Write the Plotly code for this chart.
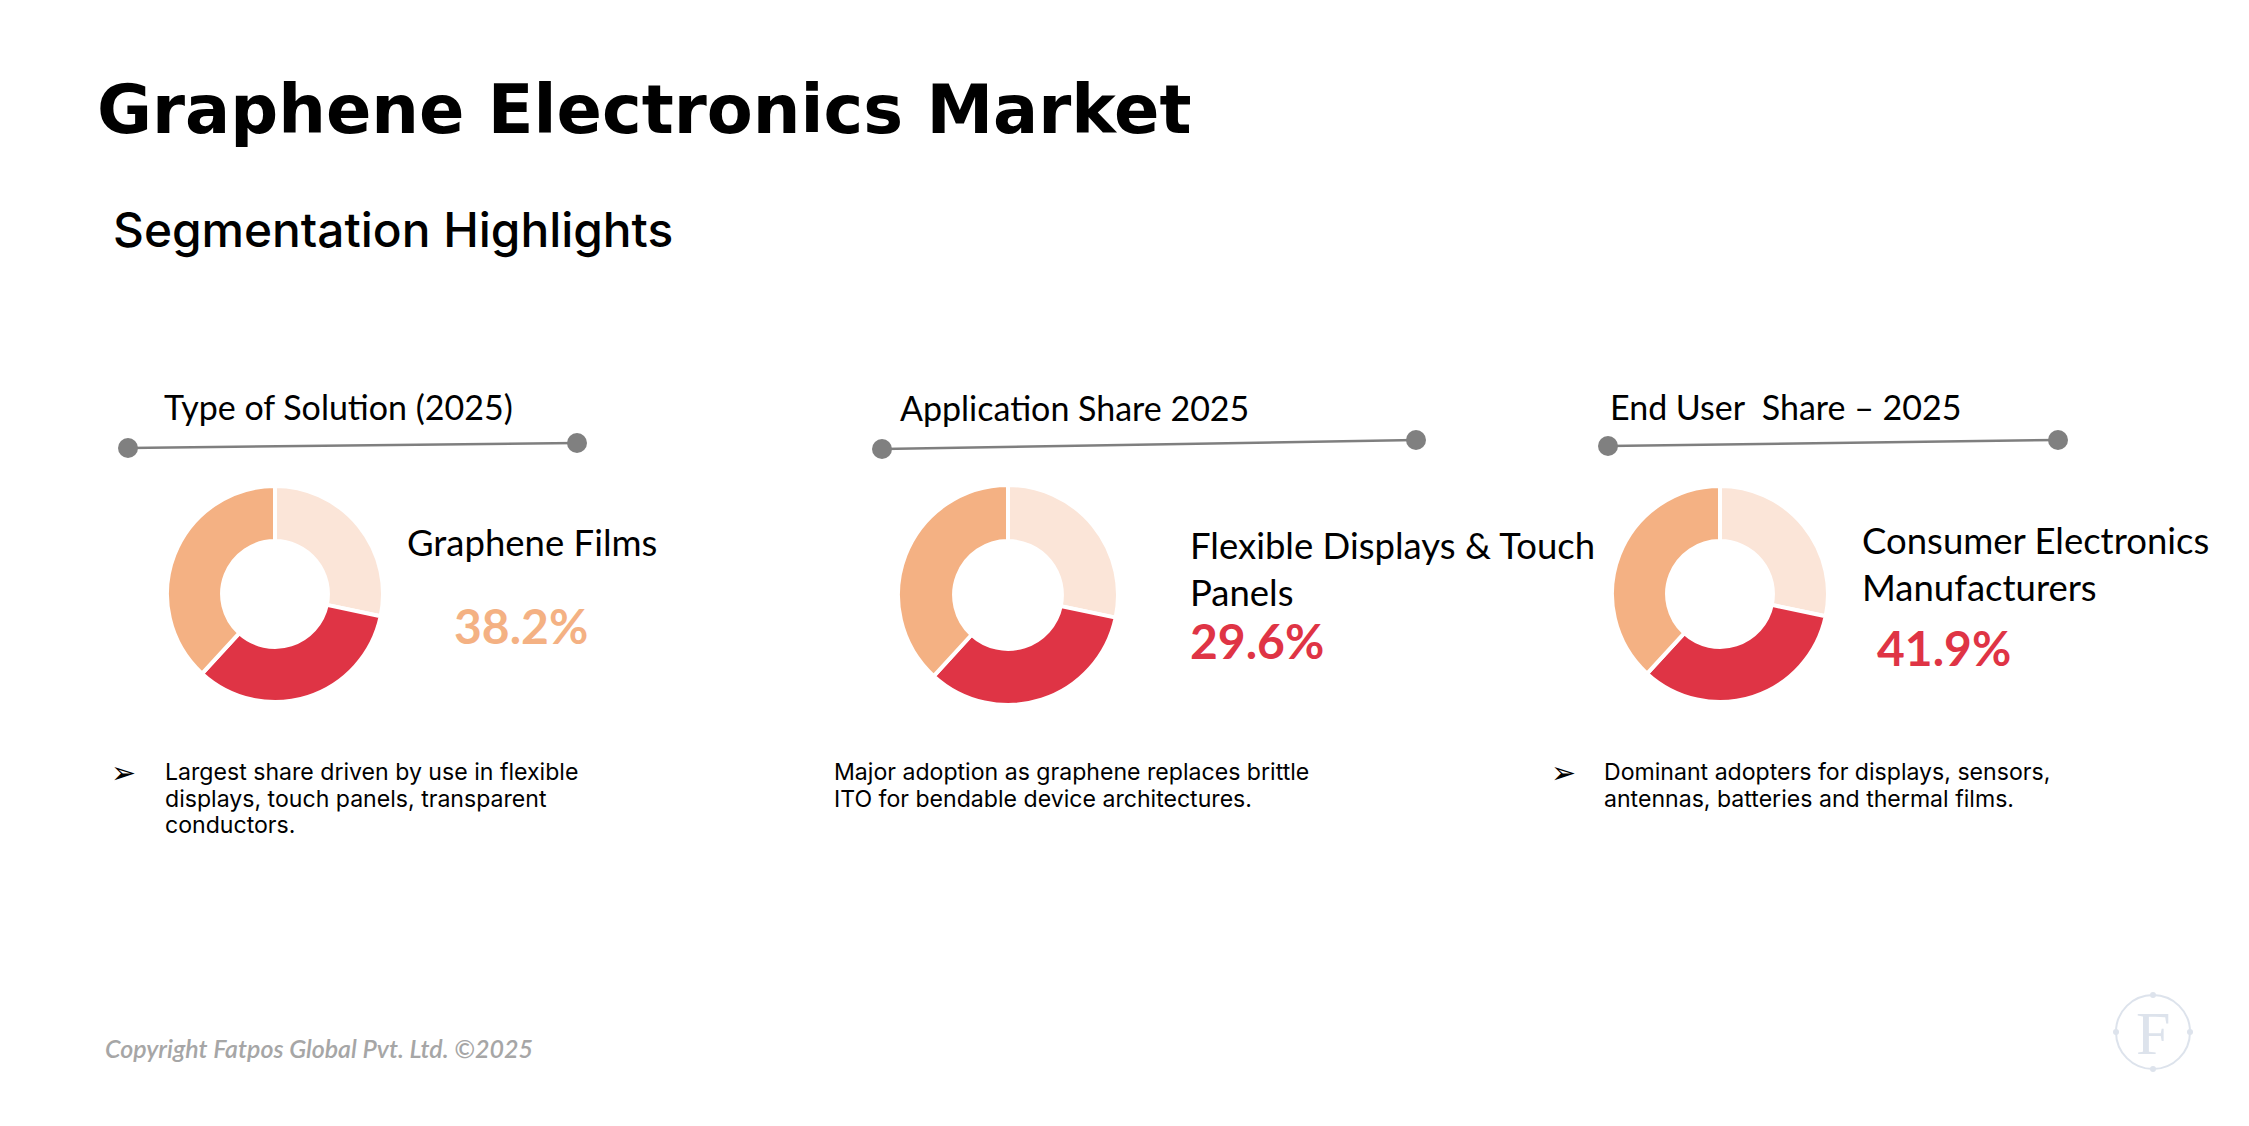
import plotly.graph_objects as go

W, H = 2249, 1126

# ---------------- data ----------------
slice_labels = ["Segment 1", "Segment 2", "Segment 3"]
solution_values = [28.3, 33.5, 38.2]
application_values = [28.3, 33.5, 38.2]
enduser_values = [28.3, 33.5, 38.2]

section_titles = ["Type of Solution (2025)", "Application Share 2025", "End User  Share \u2013 2025"]
highlight_names = ["Graphene Films", "Flexible Displays & Touch<br>Panels", "Consumer Electronics<br>Manufacturers"]
highlight_values = ["38.2%", "29.6%", "41.9%"]
notes = [
    ["Largest share driven by use in flexible", "displays, touch panels, transparent", "conductors."],
    ["Major adoption as graphene replaces brittle", "ITO for bendable device architectures."],
    ["Dominant adopters for displays, sensors,", "antennas, batteries and thermal films."],
]

LIGHT, RED, ORANGE = "#FBE5D8", "#DF3445", "#F4B183"
slice_colors = [LIGHT, RED, ORANGE]
value_colors = [ORANGE, RED, RED]


def px(x):
    return x / W


def py(y):
    return 1 - y / H


fig = go.Figure()

donut_geom = [(275, 594, 108), (1008, 595, 110), (1720, 594, 108)]
for vals, (cx, cy, R) in zip([solution_values, application_values, enduser_values], donut_geom):
    fig.add_trace(go.Pie(
        labels=slice_labels, values=vals, hole=0.49, sort=False,
        direction="clockwise", rotation=0,
        marker=dict(colors=slice_colors, line=dict(color="white", width=4)),
        textinfo="none", showlegend=False,
        domain=dict(x=[px(cx - R), px(cx + R)], y=[py(cy + R), py(cy - R)]),
    ))

shapes = []
annotations = []

# Title & subtitle
annotations.append(dict(text="<b>Graphene Electronics Market</b>", x=px(95), y=py(110),
                        xanchor="left", yanchor="middle", showarrow=False,
                        font=dict(family="DejaVu Sans", size=67, color="#000000")))
annotations.append(dict(text="Segmentation Highlights", x=px(111), y=py(230),
                        xanchor="left", yanchor="middle", showarrow=False,
                        font=dict(family="Inter", size=47.8, color="#000000", weight=500)))

# Section headers with connector lines
header_pos = [(162, 406), (898, 407), (1608, 406)]
line_pos = [((128, 448), (577, 443)), ((882, 449), (1416, 440)), ((1608, 446), (2058, 440))]
for t, (hx, hy) in zip(section_titles, header_pos):
    annotations.append(dict(text=t, x=px(hx), y=py(hy), xanchor="left", yanchor="middle",
                            showarrow=False, font=dict(family="Lato", size=34, color="#000000")))
for (x0, y0), (x1, y1) in line_pos:
    shapes.append(dict(type="line", xref="paper", yref="paper", x0=px(x0), y0=py(y0), x1=px(x1), y1=py(y1),
                       line=dict(color="#7F7F7F", width=2.5)))
    for (dx, dy) in [(x0, y0), (x1, y1)]:
        r = 10
        shapes.append(dict(type="circle", xref="paper", yref="paper",
                           x0=px(dx - r), x1=px(dx + r), y0=py(dy + r), y1=py(dy - r),
                           fillcolor="#808080", line=dict(width=0)))

# Highlight labels
name_pos = [(405, 542), (1188, 568), (1860, 563)]
val_pos = [(452, 625), (1188, 640), (1875, 647)]
for n, (nx, ny) in zip(highlight_names, name_pos):
    annotations.append(dict(text=n, x=px(nx), y=py(ny), xanchor="left", yanchor="middle", align="left",
                            showarrow=False, font=dict(family="Lato", size=36.5, color="#000000")))
for v, c, (vx, vy) in zip(highlight_values, value_colors, val_pos):
    annotations.append(dict(text="<b>" + v + "</b>", x=px(vx), y=py(vy), xanchor="left", yanchor="middle",
                            showarrow=False, font=dict(family="Lato", size=48, color=c)))

# Notes (one annotation per line)
note_x = [163, 832, 1602]
bullet_x = [123, None, 1563]
first_line_y = 772
line_gap = 26.5
for lines, nx, bx in zip(notes, note_x, bullet_x):
    for i, ln in enumerate(lines):
        annotations.append(dict(text=ln, x=px(nx), y=py(first_line_y + i * line_gap), xanchor="left",
                                yanchor="middle", showarrow=False,
                                font=dict(family="Inter", size=23.1, color="#000000")))
    if bx is not None:
        annotations.append(dict(text="\u27A2", x=px(bx), y=py(first_line_y), xanchor="center", yanchor="middle",
                                showarrow=False, font=dict(family="DejaVu Sans", size=30, color="#000000")))

# Copyright
annotations.append(dict(text="Copyright Fatpos Global Pvt. Ltd. \u00A92025", x=px(103), y=py(1048),
                        xanchor="left", yanchor="middle", showarrow=False,
                        font=dict(family="Lato", size=25, color="#A6A6A6", style="italic", weight=600)))

# Logo
lx, ly, lr = 2153, 1032, 37
shapes.append(dict(type="circle", xref="paper", yref="paper",
                   x0=px(lx - lr), x1=px(lx + lr), y0=py(ly + lr), y1=py(ly - lr),
                   line=dict(color="#DDE3EC", width=2)))
for (tx, ty) in [(lx, ly - lr), (lx, ly + lr), (lx - lr, ly), (lx + lr, ly)]:
    shapes.append(dict(type="circle", xref="paper", yref="paper",
                       x0=px(tx - 3), x1=px(tx + 3), y0=py(ty + 3), y1=py(ty - 3),
                       fillcolor="#DDE3EC", line=dict(width=0)))
annotations.append(dict(text="F", x=px(lx), y=py(ly + 1), xanchor="center", yanchor="middle",
                        showarrow=False, font=dict(family="Liberation Serif", size=62, color="#DDE3EC")))

fig.update_layout(
    width=W, height=H, margin=dict(l=0, r=0, t=0, b=0),
    paper_bgcolor="white", plot_bgcolor="white",
    shapes=shapes, annotations=annotations,
)

fig.write_html("out.html")
